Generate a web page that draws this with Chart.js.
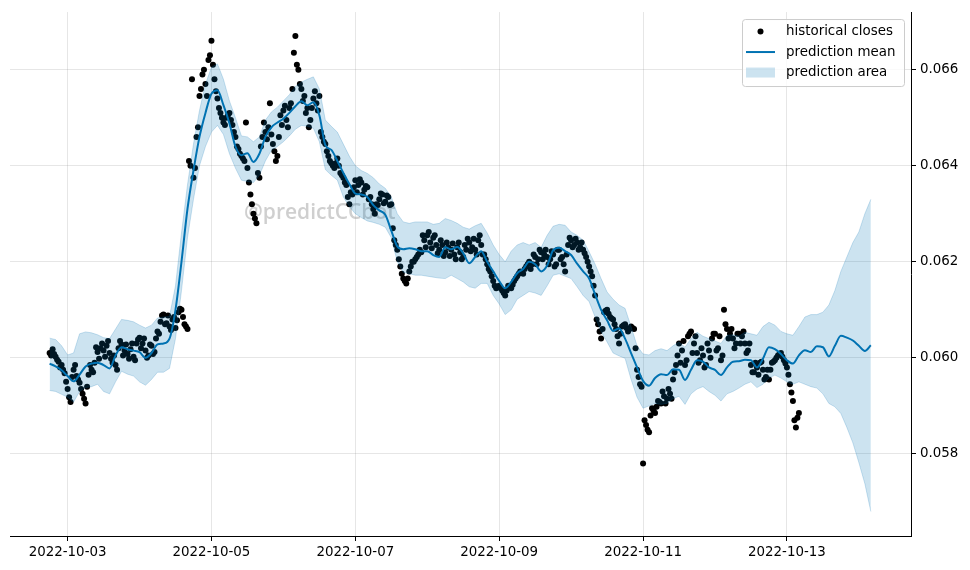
<!DOCTYPE html>
<html><head><meta charset="utf-8">
<script src="https://cdn.jsdelivr.net/npm/chart.js@4.4.0/dist/chart.umd.min.js"></script>
<style>html,body{margin:0;padding:0;background:#fff;}#wrap{width:970px;height:570px;position:relative;}</style>
</head><body><div id="wrap"><canvas id="c" width="970" height="570"></canvas></div>
<script>
// ---- data ----
const closeStart = '2022-10-02 18:00';   // closes on the hour
const closeStepHours = 1;
const closes = [
0.06010,0.06018,0.06002,0.05992,0.05985,0.05968,0.05935,0.05908,0.05975,0.05962,
0.05948,0.05925,0.05905,0.05965,0.05975,0.05990,0.06012,0.06020,0.06015,0.06025,
0.06010,0.05990,0.05985,0.06020,0.06028,0.06015,0.06008,0.06018,0.06002,0.06030,
0.06042,0.06030,0.06015,0.06005,0.06025,0.06012,0.06055,0.06075,0.06090,0.06072,
0.06065,0.06080,0.06062,0.06095,0.06100,0.06070,0.06060,0.06400,0.06375,0.06460,
0.06545,0.06590,0.06570,0.06620,0.06660,0.06580,0.06540,0.06510,0.06490,0.06500,
0.06510,0.06485,0.06460,0.06435,0.06420,0.06410,0.06395,0.06340,0.06300,0.06280,
0.06375,0.06460,0.06470,0.06480,0.06465,0.06430,0.06420,0.06505,0.06515,0.06495,
0.06520,0.06560,0.06670,0.06600,0.06560,0.06545,0.06520,0.06495,0.06540,0.06530,
0.06545,0.06460,0.06445,0.06420,0.06405,0.06395,0.06415,0.06385,0.06375,0.06360,
0.06320,0.06340,0.06370,0.06360,0.06365,0.06350,0.06355,0.06335,0.06310,0.06320,
0.06330,0.06340,0.06325,0.06335,0.06320,0.06245,0.06225,0.06190,0.06165,0.06155,
0.06180,0.06200,0.06205,0.06215,0.06220,0.06245,0.06255,0.06240,0.06250,0.06235,
0.06225,0.06235,0.06220,0.06230,0.06225,0.06215,0.06230,0.06220,0.06210,0.06225,
0.06240,0.06230,0.06225,0.06245,0.06235,0.06215,0.06195,0.06180,0.06160,0.06145,
0.06150,0.06140,0.06130,0.06150,0.06145,0.06160,0.06170,0.06180,0.06175,0.06190,
0.06200,0.06195,0.06210,0.06205,0.06220,0.06215,0.06210,0.06205,0.06215,0.06195,
0.06225,0.06210,0.06180,0.06235,0.06245,0.06235,0.06240,0.06230,0.06225,0.06210,
0.06190,0.06170,0.06130,0.06070,0.06040,0.06095,0.06100,0.06085,0.06080,0.06060,
0.06030,0.06065,0.06070,0.06055,0.06065,0.06060,0.05975,0.05945,0.05780,0.05860,
0.05845,0.05895,0.05885,0.05910,0.05905,0.05920,0.05915,0.05925,0.05955,0.05985,
0.06030,0.06015,0.05985,0.06045,0.06055,0.06030,0.06010,0.05995,0.06005,0.05985,
0.06015,0.06040,0.06050,0.06020,0.05995,0.06100,0.06060,0.06050,0.06040,0.06030,
0.06050,0.06045,0.06030,0.06015,0.05985,0.05970,0.05980,0.05990,0.05975,0.05960,
0.05955,0.05990,0.05995,0.06005,0.06010,0.05995,0.05980,0.05945,0.05910,0.05855,
0.05885
];
const halfHourStart = '2022-10-02 18:30'; // closes on the half hour
const closesHalfHour = [
0.06005,0.06008,0.05996,0.05980,0.05975,0.05950,0.05918,0.05960,0.05985,0.05955,
0.05935,0.05915,0.05940,0.05985,0.05970,0.06022,0.05998,0.06030,0.06002,0.06035,
0.05998,0.06005,0.05975,0.06035,0.06005,0.06028,0.05998,0.06030,0.05995,0.06038,
0.06020,0.06040,0.06000,0.06028,0.06008,0.06040,0.06050,0.06088,0.06070,0.06088,
0.06058,0.06085,0.06078,0.06102,0.06085,0.06065,0.06410,0.06580,0.06395,0.06480,
0.06560,0.06600,0.06545,0.06630,0.06610,0.06555,0.06520,0.06500,0.06485,0.06505,
0.06495,0.06470,0.06440,0.06425,0.06415,0.06490,0.06365,0.06320,0.06290,0.06385,
0.06440,0.06490,0.06455,0.06530,0.06445,0.06410,0.06460,0.06485,0.06525,0.06480,
0.06530,0.06635,0.06610,0.06570,0.06535,0.06510,0.06480,0.06520,0.06555,0.06515,
0.06470,0.06450,0.06430,0.06410,0.06400,0.06405,0.06400,0.06380,0.06365,0.06335,
0.06345,0.06355,0.06345,0.06372,0.06340,0.06358,0.06330,0.06320,0.06300,0.06318,
0.06342,0.06322,0.06338,0.06318,0.06270,0.06235,0.06205,0.06175,0.06160,0.06165,
0.06190,0.06200,0.06210,0.06225,0.06255,0.06230,0.06262,0.06228,0.06255,0.06218,
0.06245,0.06212,0.06240,0.06212,0.06238,0.06205,0.06240,0.06205,0.06235,0.06248,
0.06222,0.06248,0.06215,0.06255,0.06215,0.06205,0.06185,0.06170,0.06150,0.06148,
0.06145,0.06135,0.06140,0.06148,0.06152,0.06165,0.06175,0.06178,0.06185,0.06195,
0.06185,0.06215,0.06195,0.06225,0.06205,0.06225,0.06195,0.06222,0.06190,0.06225,
0.06205,0.06195,0.06215,0.06250,0.06230,0.06248,0.06225,0.06240,0.06218,0.06200,
0.06180,0.06150,0.06080,0.06055,0.06060,0.06098,0.06092,0.06082,0.06070,0.06045,
0.06050,0.06068,0.06062,0.06060,0.06062,0.06020,0.05960,0.05940,0.05870,0.05850,
0.05880,0.05890,0.05898,0.05908,0.05930,0.05905,0.05935,0.05915,0.05970,0.06005,
0.05990,0.06035,0.05995,0.06050,0.06010,0.06045,0.05990,0.06020,0.05980,0.06030,
0.06000,0.06050,0.06015,0.06045,0.06005,0.06070,0.06040,0.06060,0.06020,0.06050,
0.06030,0.06055,0.06010,0.06030,0.05970,0.05990,0.05965,0.05992,0.05955,0.05975,
0.05975,0.05992,0.06000,0.06008,0.06002,0.05988,0.05965,0.05928,0.05870,0.05875
];

const forecastStart = '2022-10-02 18:00'; // every 2 hours
const forecastStepHours = 2;
const predMean = [
0.05988,0.05982,0.05974,0.05962,0.05951,0.05965,0.05982,0.05988,0.05990,0.05985,
0.05978,0.06005,0.06022,0.06018,0.06015,0.06012,0.06000,0.06010,0.06028,0.06030,
0.06040,0.06100,0.06200,0.06310,0.06390,0.06460,0.06510,0.06550,0.06557,0.06526,
0.06488,0.06440,0.06422,0.06426,0.06408,0.06425,0.06460,0.06480,0.06490,0.06498,
0.06510,0.06524,0.06534,0.06526,0.06532,0.06505,0.06443,0.06433,0.06410,0.06385,
0.06362,0.06342,0.06340,0.06335,0.06318,0.06307,0.06298,0.06265,0.06232,0.06226,
0.06228,0.06226,0.06222,0.06222,0.06214,0.06210,0.06230,0.06226,0.06231,0.06218,
0.06197,0.06210,0.06222,0.06200,0.06180,0.06160,0.06145,0.06158,0.06176,0.06185,
0.06200,0.06195,0.06180,0.06192,0.06224,0.06229,0.06222,0.06214,0.06196,0.06180,
0.06165,0.06132,0.06100,0.06078,0.06056,0.06061,0.06040,0.06010,0.05980,0.05952,
0.05942,0.05958,0.05966,0.05964,0.05976,0.05975,0.05954,0.05975,0.05995,0.05992,
0.05980,0.05975,0.05964,0.05980,0.05992,0.05993,0.05996,0.05995,0.05980,0.05998,
0.06022,0.06018,0.06008,0.05995,0.05988,0.06005,0.06016,0.06012,0.06024,0.06022,
0.06003,0.06025,0.06046,0.06042,0.06036,0.06025,0.06014,0.06026
];
const predUpper = [
0.06041,0.06038,0.06025,0.06006,0.06010,0.06050,0.06054,0.06052,0.06048,0.06042,
0.06040,0.06060,0.06080,0.06078,0.06075,0.06068,0.06062,0.06068,0.06083,0.06085,
0.06086,0.06150,0.06260,0.06360,0.06445,0.06515,0.06570,0.06605,0.06612,0.06580,
0.06535,0.06500,0.06462,0.06460,0.06450,0.06460,0.06495,0.06512,0.06522,0.06535,
0.06548,0.06565,0.06574,0.06580,0.06585,0.06560,0.06495,0.06482,0.06470,0.06445,
0.06420,0.06400,0.06390,0.06384,0.06375,0.06362,0.06353,0.06335,0.06300,0.06283,
0.06280,0.06283,0.06283,0.06283,0.06278,0.06280,0.06290,0.06286,0.06280,0.06272,
0.06268,0.06275,0.06280,0.06260,0.06235,0.06215,0.06200,0.06222,0.06235,0.06240,
0.06235,0.06240,0.06230,0.06255,0.06274,0.06278,0.06276,0.06262,0.06255,0.06245,
0.06221,0.06195,0.06165,0.06137,0.06122,0.06110,0.06103,0.06065,0.06025,0.06008,
0.06006,0.06015,0.06019,0.06015,0.06025,0.06033,0.06022,0.06040,0.06053,0.06045,
0.06040,0.06035,0.06030,0.06047,0.06048,0.06045,0.06053,0.06050,0.06047,0.06065,
0.06074,0.06068,0.06055,0.06050,0.06047,0.06065,0.06085,0.06090,0.06090,0.06095,
0.06110,0.06140,0.06180,0.06210,0.06240,0.06262,0.06300,0.06330
];
const predLower = [
0.05932,0.05930,0.05924,0.05918,0.05908,0.05930,0.05938,0.05940,0.05945,0.05930,
0.05925,0.05950,0.05972,0.05966,0.05962,0.05950,0.05943,0.05955,0.05970,0.05970,
0.05978,0.06040,0.06140,0.06250,0.06330,0.06400,0.06440,0.06470,0.06484,0.06465,
0.06425,0.06395,0.06370,0.06367,0.06365,0.06380,0.06410,0.06432,0.06440,0.06450,
0.06462,0.06476,0.06484,0.06482,0.06478,0.06450,0.06392,0.06380,0.06370,0.06335,
0.06315,0.06300,0.06292,0.06285,0.06282,0.06278,0.06272,0.06250,0.06200,0.06178,
0.06175,0.06172,0.06172,0.06170,0.06168,0.06166,0.06165,0.06172,0.06165,0.06158,
0.06148,0.06145,0.06155,0.06155,0.06130,0.06112,0.06090,0.06100,0.06122,0.06130,
0.06138,0.06135,0.06130,0.06150,0.06172,0.06175,0.06170,0.06165,0.06148,0.06130,
0.06117,0.06085,0.06055,0.06033,0.06010,0.06004,0.05999,0.05955,0.05918,0.05895,
0.05900,0.05905,0.05903,0.05905,0.05915,0.05920,0.05903,0.05925,0.05935,0.05940,
0.05930,0.05922,0.05910,0.05925,0.05930,0.05937,0.05945,0.05950,0.05938,0.05945,
0.05958,0.05964,0.05958,0.05950,0.05945,0.05950,0.05945,0.05940,0.05937,0.05925,
0.05905,0.05898,0.05884,0.05855,0.05823,0.05782,0.05738,0.05680
];

const xTickDates = ['2022-10-03','2022-10-05','2022-10-07','2022-10-09','2022-10-11','2022-10-13'];
const yTicks = [0.058, 0.060, 0.062, 0.064, 0.066];
const xRange = ['2022-10-02 04:47', '2022-10-14 17:24'];
const yRange = [0.05629, 0.06720];
const legendLabels = ['historical closes', 'prediction mean', 'prediction area'];
const watermarkText = '@predictCCbot';

// ---- helpers ----
const ORIGIN = Date.UTC(2022, 9, 3);
function hoursOf(s) {
  const iso = (s.length === 10 ? s + 'T00:00' : s.replace(' ', 'T')) + ':00Z';
  return (Date.parse(iso) - ORIGIN) / 3600000;
}
function labelOf(h) {
  const d = new Date(ORIGIN + h * 3600000);
  const p = n => String(n).padStart(2, '0');
  return d.getUTCFullYear() + '-' + p(d.getUTCMonth() + 1) + '-' + p(d.getUTCDate());
}
const c0 = hoursOf(closeStart), c1 = hoursOf(halfHourStart), f0 = hoursOf(forecastStart);
const closePts = closes.map((v, i) => ({x: c0 + i * closeStepHours, y: v}))
  .concat(closesHalfHour.map((v, i) => ({x: c1 + i * closeStepHours, y: v})))
  .sort((a, b) => a.x - b.x);
const meanPts = predMean.map((v, i) => ({x: f0 + i * forecastStepHours, y: v}));
const upperPts = predUpper.map((v, i) => ({x: f0 + i * forecastStepHours, y: v}));
const lowerPts = predLower.map((v, i) => ({x: f0 + i * forecastStepHours, y: v}));

const BLUE = '#0072B2';
const BAND = 'rgba(0,114,178,0.2)';
const FONT = '"DejaVu Sans", sans-serif';
const GRID = 'rgba(128,128,128,0.2)';

const watermark = {
  id: 'watermark',
  beforeDatasetsDraw(chart) {
    const ctx = chart.ctx;
    ctx.save();
    ctx.font = '600 21px "Open Sans", sans-serif';
    ctx.fillStyle = 'rgba(160,160,160,0.5)';
    ctx.textBaseline = 'middle';
    ctx.textAlign = 'left';
    ctx.fillText(watermarkText, 244, 213);
    ctx.restore();
  }
};

const boxLegend = {
  id: 'boxLegend',
  afterDraw(chart) {
    const ctx = chart.ctx;
    const a = chart.chartArea;
    const w = 162, h = 67;
    const x0 = a.right - 7 - w, y0 = a.top + 7;
    ctx.save();
    ctx.beginPath();
    ctx.roundRect(x0 + 0.5, y0 + 0.5, w, h, 3);
    ctx.fillStyle = 'rgba(255,255,255,0.8)';
    ctx.fill();
    ctx.strokeStyle = '#cccccc';
    ctx.lineWidth = 1;
    ctx.stroke();
    const rows = [y0 + 12.5, y0 + 33, y0 + 53.5];
    const mx = x0 + 4, mw = 29;
    ctx.fillStyle = '#000';
    ctx.beginPath(); ctx.arc(mx + mw / 2, rows[0], 3, 0, Math.PI * 2); ctx.fill();
    ctx.strokeStyle = BLUE; ctx.lineWidth = 2;
    ctx.beginPath(); ctx.moveTo(mx, rows[1]); ctx.lineTo(mx + mw, rows[1]); ctx.stroke();
    ctx.fillStyle = BAND;
    ctx.fillRect(mx, rows[2] - 5, mw, 10);
    ctx.fillStyle = '#000';
    ctx.font = '13.4px ' + FONT;
    ctx.textBaseline = 'middle';
    ctx.textAlign = 'left';
    legendLabels.forEach((t, i) => ctx.fillText(t, x0 + 44, rows[i]));
    ctx.restore();
  }
};

new Chart(document.getElementById('c'), {
  type: 'line',
  data: {
    datasets: [
      {label: legendLabels[2], data: upperPts, borderColor: BAND, borderWidth: 1, pointRadius: 0,
       backgroundColor: BAND, fill: '+1', order: 0, tension: 0},
      {label: legendLabels[2] + ' (lower)', data: lowerPts, borderColor: BAND, borderWidth: 1, pointRadius: 0,
       fill: false, order: 0, tension: 0},
      {label: legendLabels[1], data: meanPts, borderColor: BLUE, borderWidth: 2, pointRadius: 0,
       fill: false, order: 1, cubicInterpolationMode: 'monotone'},
      {label: legendLabels[0], data: closePts, showLine: false, pointRadius: 3, pointBorderWidth: 0,
       pointBackgroundColor: '#000', backgroundColor: '#000', borderColor: '#000', order: 2}
    ]
  },
  options: {
    responsive: false, animation: false, devicePixelRatio: 1, events: [],
    layout: {padding: {left: 10, top: 10, right: 0, bottom: 0}},
    plugins: {legend: {display: false}, tooltip: {enabled: false}},
    scales: {
      x: {
        type: 'linear', position: 'bottom',
        min: hoursOf(xRange[0]), max: hoursOf(xRange[1]),
        afterBuildTicks: s => { s.ticks = xTickDates.map(d => ({value: hoursOf(d)})); },
        afterFit: s => { s.height = 34; },
        grid: {color: GRID, lineWidth: 1, drawTicks: true, tickLength: 5, tickColor: '#000', tickWidth: 1},
        border: {display: true, color: '#000', width: 1},
        ticks: {color: '#000', font: {family: FONT, size: 13.4}, padding: 3, maxRotation: 0, autoSkip: false,
                callback: v => labelOf(v)}
      },
      y: {
        type: 'linear', position: 'right',
        min: yRange[0], max: yRange[1],
        afterBuildTicks: s => { s.ticks = yTicks.map(v => ({value: v})); },
        afterFit: s => { s.width = 59; },
        grid: {color: GRID, lineWidth: 1, drawTicks: true, tickLength: 5, tickColor: '#000', tickWidth: 1},
        border: {display: true, color: '#000', width: 1},
        ticks: {color: '#000', font: {family: FONT, size: 13.4}, padding: 4,
                callback: v => Number(v).toFixed(3)}
      }
    }
  },
  plugins: [watermark, boxLegend]
});
</script>
</body></html>
